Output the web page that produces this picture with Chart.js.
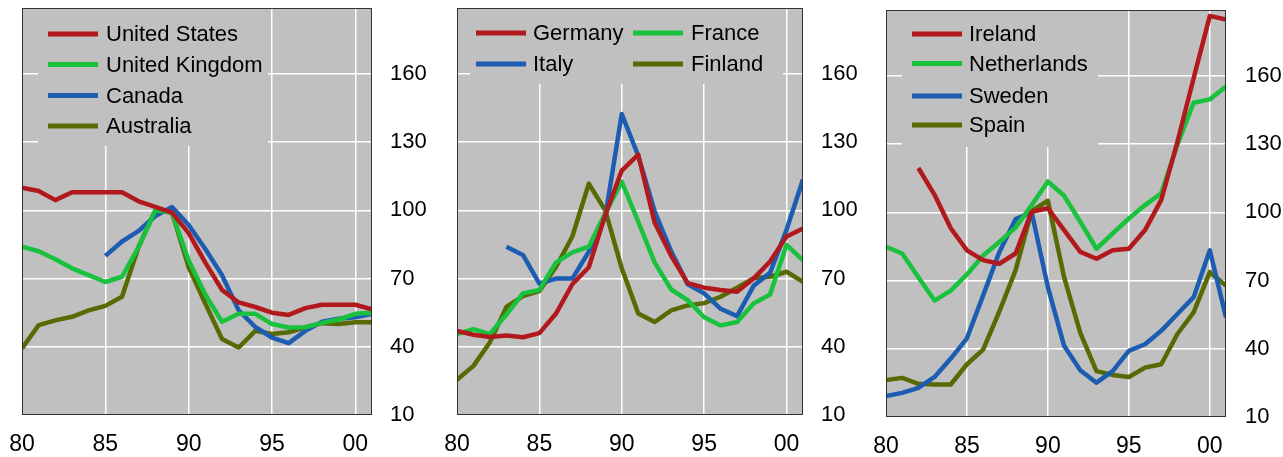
<!DOCTYPE html>
<html><head><meta charset="utf-8">
<script src="https://cdn.jsdelivr.net/npm/chart.js@4.4.1/dist/chart.umd.min.js"></script>
<style>
html,body{margin:0;padding:0;background:#fff;}
body{width:1283px;height:457px;overflow:hidden;position:relative;}
canvas{position:absolute;top:0;}
</style>
</head><body>
<canvas id="c1" width="430" height="457" style="left:0px"></canvas>
<canvas id="c2" width="430" height="457" style="left:430px"></canvas>
<canvas id="c3" width="423" height="457" style="left:860px"></canvas>
<script>
// ---------- data ----------
const years = [1980,1981,1982,1983,1984,1985,1986,1987,1988,1989,1990,1991,1992,1993,1994,1995,1996,1997,1998,1999,2000,2001];
const xTickYears = [1980,1985,1990,1995,2000];
const xTickLabels = ['80','85','90','95','00'];
const yTickValues = [10,40,70,100,130,160];

// Panel 1
const unitedStates = [110,108.5,104.5,108,108,108,108,104,101.5,99,90,77,65,59.5,57.5,55,54,57,58.5,58.5,58.5,56.5];
const unitedKingdom = [84,82,78.5,74.5,71.5,68.5,70.8,84,100,99,78,63,51,54.5,54.5,50,48.5,48.6,50.5,52,54.5,55];
const canada = [null,null,null,null,null,80,86.3,91,97.5,101.5,93.6,83,71.5,56,48.7,44,41.6,47,51,52.3,53,54.6];
const australia = [39.3,49.5,51.6,53.2,56,58,62,84,100,99,75,59,43.4,39.7,47,45.6,46.4,48.6,50.4,50,50.8,50.8];

// Panel 2
const germany = [47,45.3,44.3,45,44.2,46,54.5,67.5,75,98,117.5,124.5,94.5,80,68,66,65,64.2,70,77.5,88.5,92];
const france = [45.6,47.8,45.6,54.2,63.5,65,77,81.5,84,98.8,112.6,95,77,65.2,60.5,53,49.4,50.9,59,63,84.8,78];
const italy = [null,null,null,84,80.4,67.8,70,70,81.8,97.3,142.4,124,99.5,82,67.5,63.5,56.7,53.5,66.8,72.5,91.5,113.6];
const finland = [25.5,31.6,42,57.5,62.3,64.5,75,88.5,111.7,100,74.5,54.6,50.9,56,58.2,59.2,62,66,70.2,70.8,73,68.6];

// Panel 3
const ireland = [null,null,119.5,107.7,93,83.3,79,77.4,81.9,100.3,101.8,92.2,82.6,79.6,83.3,84,92.2,105.5,131,159,186.4,184.8];
const netherlands = [84.8,81.9,71.5,61.2,65.6,72.7,81,87,93.3,103.2,113.6,107.3,95.9,84,90.7,97.3,103.2,108.4,129.8,148.2,149.7,155.3];
const sweden = [19.2,20.6,22.8,27.6,35.7,44.6,63.5,82.5,97,100,67.1,41.3,30.6,25.1,30.2,39.1,42,47.9,55.3,62.7,83.3,53.8];
const spain = [26.3,27.2,24.6,24.3,24.3,33.2,39.6,56.4,74.5,100.6,105.1,71.5,47,30.2,28.5,27.6,31.7,33.2,46.5,56,73.7,67.8];

// ---------- styles ----------
const RED = '#b2191c', GREEN = '#18c23c', BLUE = '#1d5db1', OLIVE = '#586a04';
const PLOT_BG = '#c0c0c0';
const FONT = '"Liberation Sans", Arial, sans-serif';

function series(label, values, color) {
  return {
    label: label,
    data: years.map((y, i) => ({x: y, y: values[i]})),
    borderColor: color, backgroundColor: color,
    borderWidth: 4.5, pointRadius: 0, tension: 0, spanGaps: false,
    borderJoinStyle: 'round', borderCapStyle: 'butt'
  };
}

const framePlugin = {
  id: 'panelFrame',
  beforeDraw(chart) {
    const a = chart.chartArea, ctx = chart.ctx;
    ctx.save(); ctx.fillStyle = PLOT_BG;
    ctx.fillRect(a.left, a.top, a.right - a.left, a.bottom - a.top);
    ctx.restore();
  },
  beforeDatasetsDraw(chart, args, opts) {
    const ctx = chart.ctx;
    const b = opts.box;
    ctx.save();
    ctx.fillStyle = PLOT_BG;
    ctx.fillRect(b[0], b[1], b[2] - b[0], b[3] - b[1]);
    ctx.font = '22px ' + FONT;
    ctx.textBaseline = 'middle';
    ctx.textAlign = 'left';
    chart.data.datasets.forEach((ds, i) => {
      const it = opts.items[i];
      ctx.strokeStyle = ds.borderColor;
      ctx.lineWidth = 5;
      ctx.beginPath();
      ctx.moveTo(it.lx, it.y); ctx.lineTo(it.lx + 50, it.y);
      ctx.stroke();
      ctx.fillStyle = '#000';
      ctx.fillText(ds.label, it.tx, it.y + 1);
    });
    ctx.restore();
  },
  afterDatasetsDraw(chart) {
    const a = chart.chartArea, ctx = chart.ctx;
    ctx.save(); ctx.strokeStyle = '#333'; ctx.lineWidth = 1;
    ctx.strokeRect(Math.round(a.left) + 0.5, Math.round(a.top) + 0.5,
                   Math.round(a.right - a.left) - 1, Math.round(a.bottom - a.top) - 1);
    ctx.restore();
  }
};

function makeChart(id, datasets, geom, legendOpts) {
  const canvas = document.getElementById(id);
  return new Chart(canvas.getContext('2d'), {
    type: 'line',
    data: {datasets: datasets},
    plugins: [framePlugin],
    options: {
      responsive: false, animation: false, devicePixelRatio: 1,
      layout: {padding: {left: geom.left, top: geom.top, right: 0, bottom: 0}},
      plugins: {legend: {display: false}, tooltip: {enabled: false}, panelFrame: legendOpts},
      scales: {
        x: {
          type: 'linear', min: 1980, max: 2001,
          grid: {color: '#ffffff', lineWidth: 1.5, drawTicks: false},
          border: {display: false},
          afterBuildTicks: s => { s.ticks = xTickYears.map(v => ({value: v})); },
          ticks: {
            padding: 16, color: '#000', maxRotation: 0, autoSkip: false,
            font: {family: FONT, size: 23},
            callback: v => xTickLabels[xTickYears.indexOf(v)]
          },
          afterFit: s => { s.height = geom.xh; s.paddingLeft = 0; s.paddingRight = 0; s.paddingTop = 0; s.paddingBottom = 0; }
        },
        y: {
          type: 'linear', position: 'right', min: 10, max: 189,
          grid: {color: '#ffffff', lineWidth: 1.5, drawTicks: false},
          border: {display: false},
          afterBuildTicks: s => { s.ticks = yTickValues.map(v => ({value: v})); },
          ticks: {
            padding: geom.ypad, color: '#000',
            font: {family: FONT, size: 22},
            callback: v => String(v)
          },
          afterFit: s => { s.width = geom.yw; s.paddingLeft = 0; s.paddingRight = 0; s.paddingTop = 0; s.paddingBottom = 0; }
        }
      }
    }
  });
}

makeChart('c1', [
  series('United States', unitedStates, RED),
  series('United Kingdom', unitedKingdom, GREEN),
  series('Canada', canada, BLUE),
  series('Australia', australia, OLIVE)
], {left: 22, top: 8, yw: 58, xh: 42, ypad: 18}, {
  box: [38, 9, 268, 146],
  items: [{lx: 48, tx: 106, y: 34}, {lx: 48, tx: 106, y: 64.5}, {lx: 48, tx: 106, y: 95.5}, {lx: 48, tx: 106, y: 126}]
});

makeChart('c2', [
  series('Germany', germany, RED),
  series('France', france, GREEN),
  series('Italy', italy, BLUE),
  series('Finland', finland, OLIVE)
], {left: 27, top: 8, yw: 57, xh: 42, ypad: 18}, {
  box: [40, 9, 353, 84],
  items: [{lx: 46, tx: 103, y: 33}, {lx: 203, tx: 261, y: 33}, {lx: 46, tx: 103, y: 64}, {lx: 203, tx: 261, y: 64}]
});

makeChart('c3', [
  series('Ireland', ireland, RED),
  series('Netherlands', netherlands, GREEN),
  series('Sweden', sweden, BLUE),
  series('Spain', spain, OLIVE)
], {left: 26, top: 10, yw: 57, xh: 40, ypad: 19}, {
  box: [42, 11, 238, 147],
  items: [{lx: 52, tx: 109, y: 34}, {lx: 52, tx: 109, y: 63.5}, {lx: 52, tx: 109, y: 96}, {lx: 52, tx: 109, y: 125}]
});
</script>
</body></html>
